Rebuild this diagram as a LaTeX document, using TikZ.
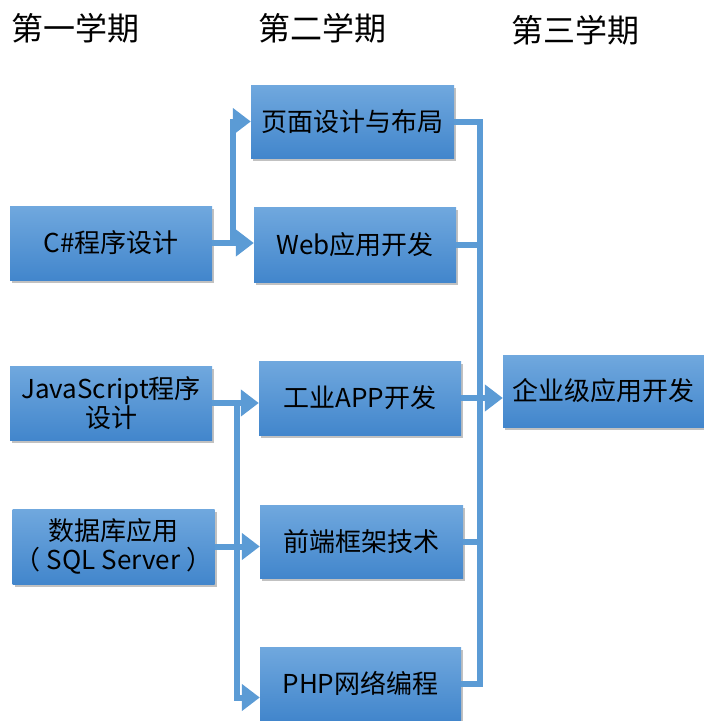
\documentclass[tikz,border=0pt]{standalone}
\usepackage{fontspec}
\setmainfont{Noto Sans CJK SC}
\usetikzlibrary{arrows.meta,shadows,calc}
\definecolor{boxtop}{RGB}{112,168,222}
\definecolor{boxbot}{RGB}{66,134,204}
\definecolor{linkblue}{RGB}{91,155,213}
\tikzset{
  course/.style={rectangle,top color=boxtop,bottom color=boxbot,
    minimum width=202pt,minimum height=74pt,inner sep=0pt,align=center,
    font=\fontsize{26pt}{29pt}\selectfont,
    drop shadow={shadow xshift=2pt,shadow yshift=-3pt,opacity=0.35,fill=black!70}},
  term/.style={font=\fontsize{32pt}{34pt}\selectfont},
  link/.style={draw=linkblue,line width=6pt,line join=miter},
  flow/.style={link,-{Triangle[length=18pt,width=26pt]}}
}
\begin{document}
\begin{tikzpicture}[x=1pt,y=-1pt]
   \useasboundingbox (0,0) rectangle (704,721);
   \node[term] (t1) at (76,28) {第一学期};
   \node[term] (t2) at (322,28) {第二学期};
   \node[term] (t3) at (575,30) {第三学期};

   \node[course] (cs) at (111,243) {C\#程序设计};
   \node[course] (js) at (111,403) {JavaScript程序\\设计};
   \node[course,minimum height=75pt] (db) at (113.5,546.5) {数据库应用\\（ SQL Server ）};

   \node[course,minimum width=203pt,minimum height=73pt] (ym) at (352.5,121.5) {页面设计与布局};
   \node[course,minimum height=75pt] (web) at (355,244.5) {Web应用开发};
   \node[course] (app) at (360,398) {工业APP开发};
   \node[course,minimum width=203pt,minimum height=73pt] (fe) at (361.5,541.5) {前端框架技术};
   \node[course,minimum width=201pt,minimum height=73pt] (php) at (360.5,683.5) {PHP网络编程};

   \node[course,minimum width=201pt,minimum height=72pt] (qy) at (603.5,391) {企业级应用开发};

   \coordinate (lb1) at (233,0);
   \coordinate (lb2) at (237,0);
   \coordinate (rb) at (480,0);

   \draw[flow] (cs.east) -- (web.west |- cs.east);
   \draw[flow] (cs.east) -- (lb1 |- cs.east) |- (ym.west);
   \draw[flow] (js.east) -- (app.west |- js.east);
   \draw[flow] (js.east) -- (lb2 |- js.east) |- ($(php.west)+(0,14)$);
   \draw[flow] (db.east) -- (fe.west |- db.east);

   \draw[link] (ym.east) -| (rb |- php.east) -- (php.east);
   \foreach \n in {web,app,fe}
    \draw[link] (\n.east) -- (rb |- \n.east);
   \draw[flow] (rb |- app.east) -- (qy.west |- app.east);
\end{tikzpicture}
\end{document}
